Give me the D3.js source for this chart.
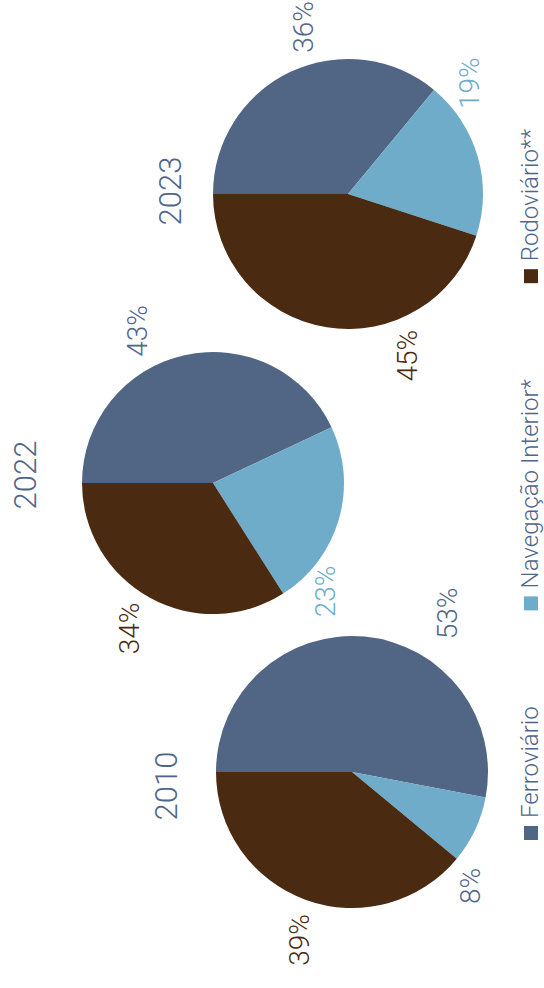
<!DOCTYPE html>
<html lang="pt">
<head>
<meta charset="utf-8">
<script src="https://cdn.jsdelivr.net/npm/d3@7"></script>
<style>
  html, body { margin: 0; padding: 0; background: #ffffff; }
  svg { display: block; }
  text { font-family: Roboto, "Open Sans", "Liberation Sans", sans-serif; font-weight: 300; }
</style>
</head>
<body>
<svg id="chart" width="544" height="988"></svg>
<script>
// Transport mode share (%) by year
const years = ["2010", "2022", "2023"];
const modes = ["Ferroviário", "Navegação Interior*", "Rodoviário**"];
const ferroviario = [53, 43, 36];
const navegacao = [8, 23, 19];
const rodoviario = [39, 34, 45];

const colors = ["#516584", "#6eacc9", "#4a2a11"];
const textBlue = "#506689";

// Layout (drawn in a landscape frame, then turned on its side)
const W = 988, H = 544;
const pieCenterY = [352, 213, 348];
const pieRadius = [136, 131, 135];
const yearOffset = [[-14, -186], [8, -188], [3, -178]];
// percentage label anchors: [angle in degrees clockwise from top, distance from centre]
const labelPolar = [
  [[121, 185], [224, 164], [287.5, 176]],
  [[63.4, 170], [224, 156], [300, 168]],
  [[75, 173], [137.5, 164], [250, 172]]
];
const labelColors = [
  [textBlue, textBlue, colors[2]],
  [textBlue, colors[1], colors[2]],
  [textBlue, colors[1], colors[2]]
];

const svg = d3.select("#chart");
const g = svg.append("g").attr("transform", `translate(0,${W}) rotate(-90)`);

const x = d3.scalePoint().domain(years).range([216, 794]);
const pie = d3.pie().sort(null).value(d => d.value);

years.forEach((year, i) => {
  const values = [ferroviario[i], navegacao[i], rodoviario[i]]
    .map((v, k) => ({ mode: modes[k], value: v, k }));
  const cx = x(year), cy = pieCenterY[i], r = pieRadius[i];
  const arc = d3.arc().innerRadius(0).outerRadius(r);
  const pg = g.append("g").attr("transform", `translate(${cx},${cy})`);

  pg.selectAll("path.slice")
    .data(pie(values))
    .join("path")
    .attr("class", "slice")
    .attr("d", arc)
    .attr("fill", d => colors[d.data.k]);

  pg.selectAll("text.pct")
    .data(pie(values))
    .join("text")
    .attr("class", "pct")
    .attr("transform", d => {
      const [deg, dist] = labelPolar[i][d.data.k];
      const a = deg * Math.PI / 180;
      return `translate(${dist * Math.sin(a)},${-dist * Math.cos(a)})`;
    })
    .attr("text-anchor", "middle")
    .attr("dy", "0.35em")
    .attr("font-size", 28)
    .attr("fill", d => labelColors[i][d.data.k])
    .text(d => d.data.value + "%");

  pg.append("text")
    .attr("x", yearOffset[i][0])
    .attr("y", yearOffset[i][1])
    .attr("dy", "0.35em")
    .attr("text-anchor", "middle")
    .attr("font-size", 31)
    .attr("fill", textBlue)
    .text(year);
});

// Legend along the bottom edge
const legend = g.append("g");
let lx = 148;
modes.forEach((m, k) => {
  legend.append("rect")
    .attr("x", lx).attr("y", 524)
    .attr("width", 14).attr("height", 14)
    .attr("fill", colors[k]);
  const t = legend.append("text")
    .attr("x", lx + 22).attr("y", 538)
    .attr("font-size", 24)
    .attr("fill", textBlue)
    .text(m);
  lx += 22 + t.node().getComputedTextLength() + 96;
});
</script>
</body>
</html>
